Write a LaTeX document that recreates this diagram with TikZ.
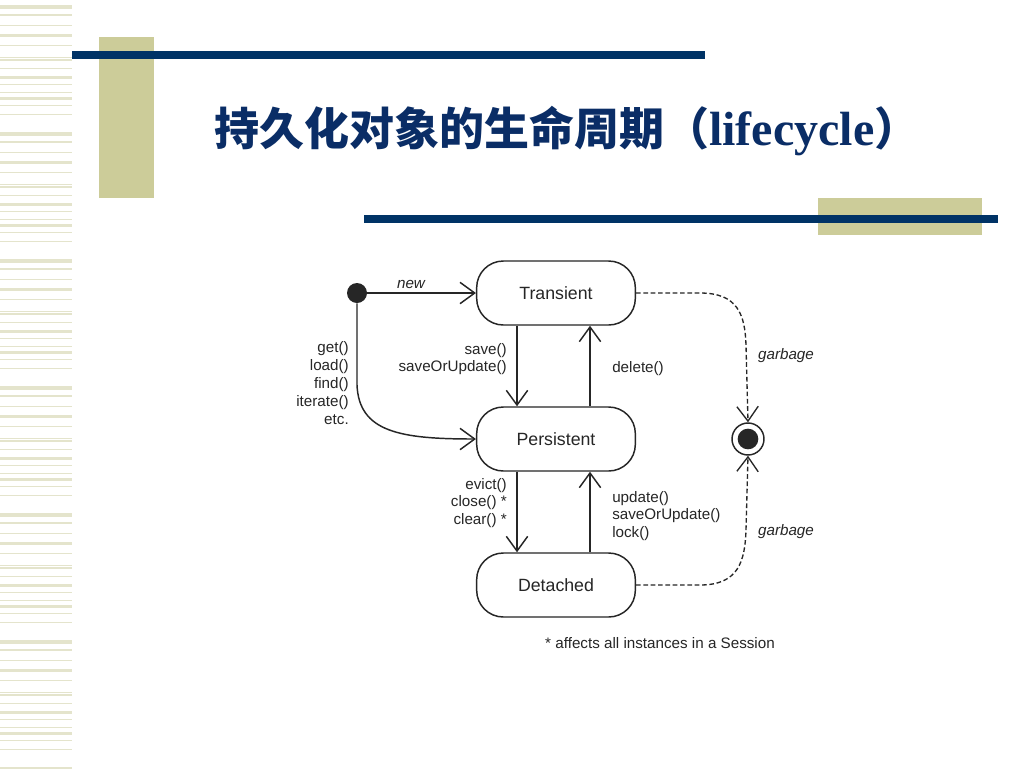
\documentclass[tikz,border=0pt]{standalone}
\usepackage{fontspec}
\setmainfont{Liberation Sans}
\newfontfamily\cjk{Noto Sans CJK SC}
\newfontfamily\timesfont{Liberation Serif}
\usetikzlibrary{arrows.meta}
\definecolor{navy}{HTML}{003366}
\definecolor{titleblue}{HTML}{0A2D66}
\definecolor{olivebox}{HTML}{CCCC99}
\definecolor{stripe}{HTML}{E4E4CC}
\definecolor{ink}{HTML}{262626}
\tikzset{
  lcstate/.style={draw=ink, line width=1.1pt, rounded corners=20pt, minimum width=119pt, minimum height=48pt, font=\fontsize{13.3}{16}\selectfont, text=ink},
  flow/.style={draw=ink, line width=1.1pt, -{Straight Barb[length=11pt,width=16pt]}},
  garb/.style={draw=ink, line width=1pt, dash pattern=on 3.5pt off 2pt, -{Straight Barb[length=11pt,width=16pt]}},
  lbl/.style={font=\fontsize{11.4}{13.4}\selectfont, text=ink, inner sep=0pt},
}
\begin{document}
\begin{tikzpicture}[x=0.75pt,y=-0.75pt]
\path[use as bounding box, fill=white] (0,0) rectangle (1024,768);
% left stripes
\foreach \o in {0,127,...,762} {
  \foreach \yy/\t in {7/4,15/2,25/1,35/3,45/1,57/1,60/2,68/1,77/3,84/1,92/1,98/3,105/1,114/1} {
    \fill[stripe] (0,\o+\yy-\t/2) rectangle (72,\o+\yy+\t/2);
  }
}
% decorations
\fill[olivebox] (99,37) rectangle (154,198);
\fill[navy] (72,51) rectangle (705,59);
\fill[olivebox] (818,198) rectangle (982,235);
\fill[navy] (364,215) rectangle (998,223);
% title
\node[anchor=base west, inner sep=0pt, text=titleblue] (title) at (214,145)
  {{\cjk\bfseries\fontsize{33.75}{40}\selectfont 持久化对象的生命周期（}{\timesfont\bfseries\fontsize{36}{40}\selectfont lifecycle}{\cjk\bfseries\fontsize{33.75}{40}\selectfont ）}};
% states
\node[lcstate] (T) at (556,293) {Transient};
\node[lcstate] (P) at (556,439) {Persistent};
\node[lcstate] (D) at (556,585) {Detached};
\node[circle, fill=ink, inner sep=0pt, minimum size=15pt] (I) at (357,293) {};
\node[circle, draw=ink, line width=1.1pt, inner sep=0pt, minimum size=24pt] (F) at (748,439) {};
\node[circle, fill=ink, inner sep=0pt, minimum size=15.5pt] (Fin) at (748,439) {};
% transitions
\draw[flow] (I) -- (T);
\draw[flow] (I.south) -- (357,385) .. controls (359,432) and (400,439) .. (P.west);
\draw[flow] ([xshift=-29.25pt]T.south) -- ([xshift=-29.25pt]P.north);
\draw[flow] ([xshift=25.5pt]P.north) -- ([xshift=25.5pt]T.south);
\draw[flow] ([xshift=-29.25pt]P.south) -- ([xshift=-29.25pt]D.north);
\draw[flow] ([xshift=25.5pt]D.north) -- ([xshift=25.5pt]P.south);
\draw[garb] (T.east) -- (700,293) .. controls (738,293) and (745,315) .. (746,345) -- (F.north);
\draw[garb] (D.east) -- (700,585) .. controls (738,585) and (745,562) .. (746,530) -- (F.south);
% labels
\node[lbl, font=\fontsize{11.4}{13.4}\selectfont\itshape] (lnew) at (411,284) {new};
\node[lbl, align=right, anchor=east] (lget) at (349,383) {get()\\load()\\find()\\iterate()\\etc.};
\node[lbl, align=right, anchor=east] (lsave) at (507,359) {save()\\saveOrUpdate()};
\node[lbl, anchor=west] (ldel) at (612,369) {delete()};
\node[lbl, align=right, anchor=east] (levict) at (507,503) {evict()\\close() *\\clear() *};
\node[lbl, align=left, anchor=west] (lupd) at (612,516) {update()\\saveOrUpdate()\\lock()};
\node[lbl, font=\fontsize{11.4}{13.4}\selectfont\itshape] (lg1) at (786,356) {garbage};
\node[lbl, font=\fontsize{11.4}{13.4}\selectfont\itshape] (lg2) at (786,532) {garbage};
\node[lbl] (note) at (660,643) {* affects all instances in a Session};
\end{tikzpicture}
\end{document}
